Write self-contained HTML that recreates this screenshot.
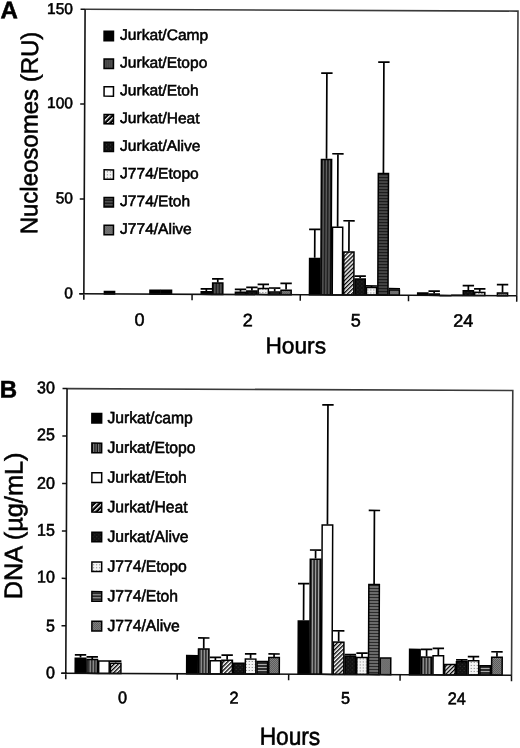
<!DOCTYPE html>
<html><head><meta charset="utf-8"><style>
html,body{margin:0;padding:0;background:#fff;}
svg{display:block;filter:blur(0.3px);}
text{font-family:"Liberation Sans", sans-serif;stroke:#000;stroke-width:0.55px;}
</style></head><body>
<svg width="520" height="748" viewBox="0 0 520 748" font-family="Liberation Sans, sans-serif">
<defs>
<pattern id="pEtopoA" width="3" height="4" patternUnits="userSpaceOnUse">
  <rect width="3" height="4" fill="#222"/><rect x="1" width="1" height="4" fill="#6a6a6a"/></pattern>
<pattern id="pHeat" width="2.9" height="4" patternUnits="userSpaceOnUse" patternTransform="rotate(45)">
  <rect width="2.9" height="4" fill="#fff"/><rect width="1.35" height="4" fill="#000"/></pattern>
<pattern id="pAlive" width="4" height="4" patternUnits="userSpaceOnUse">
  <rect width="4" height="4" fill="#111"/><rect x="1" y="1" width="1" height="1" fill="#3a3a3a"/><rect x="3" y="3" width="1" height="1" fill="#2a2a2a"/></pattern>
<pattern id="pJEtopo" width="3" height="3" patternUnits="userSpaceOnUse">
  <rect width="3" height="3" fill="#f4f4f4"/><rect x="1" y="1" width="1" height="1" fill="#777"/></pattern>
<pattern id="pJEtoh" width="4" height="3" patternUnits="userSpaceOnUse">
  <rect width="4" height="3" fill="#1c1c1c"/><rect y="1" width="4" height="1" fill="#6a6a6a"/></pattern>
<pattern id="pJAlive" width="2" height="2" patternUnits="userSpaceOnUse">
  <rect width="2" height="2" fill="#9a9a9a"/><rect width="1" height="1" fill="#444"/><rect x="1" y="1" width="1" height="1" fill="#444"/></pattern>
<pattern id="pEtopoB" width="3" height="4" patternUnits="userSpaceOnUse">
  <rect width="3" height="4" fill="#333"/><rect x="1" width="1" height="4" fill="#aaa"/></pattern>
<pattern id="pHeatL" width="3.6" height="3.6" patternUnits="userSpaceOnUse" patternTransform="rotate(45)">
  <rect width="3.6" height="3.6" fill="#000"/><rect width="1.3" height="3.6" fill="#fff"/></pattern>
<pattern id="pEtopoL" width="2" height="2" patternUnits="userSpaceOnUse">
  <rect width="2" height="2" fill="#3a3a3a"/><rect width="1" height="2" fill="#5a5a5a"/></pattern>
<pattern id="pEtopoBL" width="2.5" height="4" patternUnits="userSpaceOnUse">
  <rect width="2.5" height="4" fill="#111"/><rect x="1" width="1" height="4" fill="#999"/></pattern>
<pattern id="pJEtohB" width="4" height="3" patternUnits="userSpaceOnUse">
  <rect width="4" height="3" fill="#2a2a2a"/><rect y="1" width="4" height="1" fill="#aaa"/></pattern>
</defs>
<rect width="520" height="748" fill="#fff"/>
<g transform="rotate(0.25 260 374)">
<path d="M83.5 10H516.4V294.6" fill="none" stroke="#3a3a3a" stroke-width="1.6"/>
<rect x="104.04" y="292.16" width="10.19" height="2.44" fill="#000" stroke="#000" stroke-width="1.5"/>
<rect x="149.6" y="290.65" width="10.19" height="3.95" fill="#000" stroke="#000" stroke-width="1.5"/>
<rect x="161" y="290.65" width="10.19" height="3.95" fill="#000" stroke="#000" stroke-width="1.5"/>
<rect x="200.87" y="291.97" width="10.19" height="2.63" fill="#000" stroke="#000" stroke-width="1.5"/>
<rect x="212.26" y="283.25" width="10.19" height="11.35" fill="url(#pEtopoA)" stroke="#000" stroke-width="1.5"/>
<rect x="235.05" y="292.35" width="10.19" height="2.25" fill="#222" stroke="#000" stroke-width="1.5"/>
<rect x="246.44" y="291.03" width="10.19" height="3.57" fill="url(#pAlive)" stroke="#000" stroke-width="1.5"/>
<rect x="257.83" y="288.56" width="10.19" height="6.04" fill="url(#pJEtopo)" stroke="#000" stroke-width="1.5"/>
<rect x="269.22" y="291.97" width="10.19" height="2.63" fill="url(#pJEtoh)" stroke="#000" stroke-width="1.5"/>
<rect x="280.61" y="290.08" width="10.19" height="4.52" fill="url(#pJAlive)" stroke="#000" stroke-width="1.5"/>
<rect x="309.09" y="258.2" width="10.19" height="36.4" fill="#000" stroke="#000" stroke-width="1.5"/>
<rect x="320.49" y="159.16" width="10.19" height="135.44" fill="url(#pEtopoA)" stroke="#000" stroke-width="1.5"/>
<rect x="331.88" y="226.9" width="10.19" height="67.7" fill="#fff" stroke="#000" stroke-width="1.5"/>
<rect x="343.27" y="251.56" width="10.19" height="43.04" fill="url(#pHeat)" stroke="#000" stroke-width="1.5"/>
<rect x="354.66" y="278.5" width="10.19" height="16.1" fill="url(#pAlive)" stroke="#000" stroke-width="1.5"/>
<rect x="366.05" y="287.04" width="10.19" height="7.56" fill="url(#pJEtopo)" stroke="#000" stroke-width="1.5"/>
<rect x="377.45" y="173.01" width="10.19" height="121.59" fill="url(#pJEtoh)" stroke="#000" stroke-width="1.5"/>
<rect x="388.84" y="289.32" width="10.19" height="5.28" fill="url(#pJAlive)" stroke="#000" stroke-width="1.5"/>
<rect x="417.32" y="292.35" width="10.19" height="2.25" fill="#000" stroke="#000" stroke-width="1.5"/>
<rect x="428.71" y="293.3" width="10.19" height="1.3" fill="url(#pEtopoA)" stroke="#000" stroke-width="1.5"/>
<rect x="440.1" y="294.82" width="10.19" height="0.1" fill="#fff" stroke="#000" stroke-width="1.5"/>
<rect x="451.5" y="294.44" width="10.19" height="0.16" fill="url(#pHeat)" stroke="#000" stroke-width="1.5"/>
<rect x="462.89" y="289.89" width="10.19" height="4.71" fill="url(#pAlive)" stroke="#000" stroke-width="1.5"/>
<rect x="474.28" y="291.41" width="10.19" height="3.19" fill="url(#pJEtopo)" stroke="#000" stroke-width="1.5"/>
<rect x="497.06" y="291.97" width="10.19" height="2.63" fill="url(#pJAlive)" stroke="#000" stroke-width="1.5"/>
<path d="M205.97 291.37V289.1M200.27 289.1H211.67" stroke="#000" stroke-width="1.7" fill="none"/>
<path d="M217.36 282.65V279.04M211.66 279.04H223.06" stroke="#000" stroke-width="1.7" fill="none"/>
<path d="M240.14 291.75V289.48M234.44 289.48H245.84" stroke="#000" stroke-width="1.7" fill="none"/>
<path d="M251.53 290.43V287.39M245.83 287.39H257.23" stroke="#000" stroke-width="1.7" fill="none"/>
<path d="M262.93 287.96V284.35M257.23 284.35H268.63" stroke="#000" stroke-width="1.7" fill="none"/>
<path d="M274.32 291.37V287.96M268.62 287.96H280.02" stroke="#000" stroke-width="1.7" fill="none"/>
<path d="M285.71 289.48V283.22M280.01 283.22H291.41" stroke="#000" stroke-width="1.7" fill="none"/>
<path d="M314.19 257.6V229.14M308.49 229.14H319.89" stroke="#000" stroke-width="1.7" fill="none"/>
<path d="M325.58 158.56V72.8M319.88 72.8H331.28" stroke="#000" stroke-width="1.7" fill="none"/>
<path d="M336.97 226.3V153.44M331.27 153.44H342.67" stroke="#000" stroke-width="1.7" fill="none"/>
<path d="M348.37 250.96V220.41M342.67 220.41H354.07" stroke="#000" stroke-width="1.7" fill="none"/>
<path d="M359.76 277.9V275.63M354.06 275.63H365.46" stroke="#000" stroke-width="1.7" fill="none"/>
<path d="M371.15 286.44V285.49M365.45 285.49H376.85" stroke="#000" stroke-width="1.7" fill="none"/>
<path d="M382.54 172.41V61.61M376.84 61.61H388.24" stroke="#000" stroke-width="1.7" fill="none"/>
<path d="M393.93 288.72V288.15M388.23 288.15H399.63" stroke="#000" stroke-width="1.7" fill="none"/>
<path d="M433.81 292.7V290.43M428.11 290.43H439.51" stroke="#000" stroke-width="1.7" fill="none"/>
<path d="M467.98 289.29V284.73M462.28 284.73H473.68" stroke="#000" stroke-width="1.7" fill="none"/>
<path d="M479.38 290.81V287.96M473.68 287.96H485.08" stroke="#000" stroke-width="1.7" fill="none"/>
<path d="M502.16 291.37V283.6M496.46 283.6H507.86" stroke="#000" stroke-width="1.7" fill="none"/>
<path d="M83.5 10V300.6M79 294.6H516.4" stroke="#111" stroke-width="1.6" fill="none"/>
<path d="M79 294.6H83.5" stroke="#111" stroke-width="1.5"/>
<path d="M79 199.73H83.5" stroke="#111" stroke-width="1.5"/>
<path d="M79 104.87H83.5" stroke="#111" stroke-width="1.5"/>
<path d="M79 10H83.5" stroke="#111" stroke-width="1.5"/>
<path d="M191.72 294.6V300.6" stroke="#111" stroke-width="1.5"/>
<path d="M299.95 294.6V300.6" stroke="#111" stroke-width="1.5"/>
<path d="M408.17 294.6V300.6" stroke="#111" stroke-width="1.5"/>
<path d="M516.4 294.6V300.6" stroke="#111" stroke-width="1.5"/>
<path d="M67.1 389.45H512.85V674.1" fill="none" stroke="#3a3a3a" stroke-width="1.6"/>
<rect x="76.5" y="658.95" width="10.53" height="15.15" fill="#000" stroke="#000" stroke-width="1.5"/>
<rect x="88.23" y="660.28" width="10.53" height="13.82" fill="url(#pEtopoB)" stroke="#000" stroke-width="1.5"/>
<rect x="99.96" y="661.7" width="10.53" height="12.4" fill="#fff" stroke="#000" stroke-width="1.5"/>
<rect x="111.69" y="663.79" width="10.53" height="10.31" fill="url(#pHeat)" stroke="#000" stroke-width="1.5"/>
<rect x="187.94" y="655.91" width="10.53" height="18.19" fill="#000" stroke="#000" stroke-width="1.5"/>
<rect x="199.67" y="649.27" width="10.53" height="24.83" fill="url(#pEtopoB)" stroke="#000" stroke-width="1.5"/>
<rect x="211.4" y="660.85" width="10.53" height="13.25" fill="#fff" stroke="#000" stroke-width="1.5"/>
<rect x="223.13" y="660.47" width="10.53" height="13.63" fill="url(#pHeat)" stroke="#000" stroke-width="1.5"/>
<rect x="234.86" y="663.41" width="10.53" height="10.69" fill="url(#pAlive)" stroke="#000" stroke-width="1.5"/>
<rect x="246.59" y="659.14" width="10.53" height="14.96" fill="url(#pJEtopo)" stroke="#000" stroke-width="1.5"/>
<rect x="258.32" y="661.51" width="10.53" height="12.59" fill="url(#pJEtohB)" stroke="#000" stroke-width="1.5"/>
<rect x="270.05" y="657.43" width="10.53" height="16.67" fill="url(#pJAlive)" stroke="#000" stroke-width="1.5"/>
<rect x="299.37" y="620.71" width="10.53" height="53.39" fill="#000" stroke="#000" stroke-width="1.5"/>
<rect x="311.1" y="558.94" width="10.53" height="115.16" fill="url(#pEtopoB)" stroke="#000" stroke-width="1.5"/>
<rect x="322.83" y="524.78" width="10.53" height="149.32" fill="#fff" stroke="#000" stroke-width="1.5"/>
<rect x="334.56" y="641.78" width="10.53" height="32.32" fill="url(#pHeat)" stroke="#000" stroke-width="1.5"/>
<rect x="346.29" y="655.91" width="10.53" height="18.19" fill="url(#pAlive)" stroke="#000" stroke-width="1.5"/>
<rect x="358.02" y="657.15" width="10.53" height="16.95" fill="url(#pJEtopo)" stroke="#000" stroke-width="1.5"/>
<rect x="369.75" y="583.99" width="10.53" height="90.11" fill="url(#pJEtohB)" stroke="#000" stroke-width="1.5"/>
<rect x="381.48" y="657.43" width="10.53" height="16.67" fill="url(#pJAlive)" stroke="#000" stroke-width="1.5"/>
<rect x="410.81" y="648.7" width="10.53" height="25.4" fill="#000" stroke="#000" stroke-width="1.5"/>
<rect x="422.54" y="656.39" width="10.53" height="17.71" fill="url(#pEtopoB)" stroke="#000" stroke-width="1.5"/>
<rect x="434.27" y="655.06" width="10.53" height="19.04" fill="#fff" stroke="#000" stroke-width="1.5"/>
<rect x="446" y="663.6" width="10.53" height="10.5" fill="url(#pHeat)" stroke="#000" stroke-width="1.5"/>
<rect x="457.73" y="660.94" width="10.53" height="13.16" fill="url(#pAlive)" stroke="#000" stroke-width="1.5"/>
<rect x="469.46" y="659.9" width="10.53" height="14.2" fill="url(#pJEtopo)" stroke="#000" stroke-width="1.5"/>
<rect x="481.19" y="664.83" width="10.53" height="9.27" fill="url(#pJEtohB)" stroke="#000" stroke-width="1.5"/>
<rect x="492.92" y="656.29" width="10.53" height="17.81" fill="url(#pJAlive)" stroke="#000" stroke-width="1.5"/>
<path d="M81.76 658.35V655.6M76.06 655.6H87.46" stroke="#000" stroke-width="1.7" fill="none"/>
<path d="M93.49 659.68V657.59M87.79 657.59H99.19" stroke="#000" stroke-width="1.7" fill="none"/>
<path d="M116.95 663.19V661.77M111.25 661.77H122.65" stroke="#000" stroke-width="1.7" fill="none"/>
<path d="M204.93 648.67V638.23M199.23 638.23H210.63" stroke="#000" stroke-width="1.7" fill="none"/>
<path d="M216.66 660.25V657.59M210.96 657.59H222.36" stroke="#000" stroke-width="1.7" fill="none"/>
<path d="M228.39 659.87V655.31M222.69 655.31H234.09" stroke="#000" stroke-width="1.7" fill="none"/>
<path d="M251.85 658.54V653.89M246.15 653.89H257.55" stroke="#000" stroke-width="1.7" fill="none"/>
<path d="M275.31 656.83V653.89M269.61 653.89H281.01" stroke="#000" stroke-width="1.7" fill="none"/>
<path d="M304.64 620.11V583.49M298.94 583.49H310.34" stroke="#000" stroke-width="1.7" fill="none"/>
<path d="M316.37 558.34V549.8M310.67 549.8H322.07" stroke="#000" stroke-width="1.7" fill="none"/>
<path d="M328.1 524.18V404.63M322.4 404.63H333.8" stroke="#000" stroke-width="1.7" fill="none"/>
<path d="M339.83 641.18V630.45M334.13 630.45H345.53" stroke="#000" stroke-width="1.7" fill="none"/>
<path d="M351.56 655.31V654.17M345.86 654.17H357.26" stroke="#000" stroke-width="1.7" fill="none"/>
<path d="M363.29 656.55V652.75M357.59 652.75H368.99" stroke="#000" stroke-width="1.7" fill="none"/>
<path d="M375.02 583.39V509.95M369.32 509.95H380.72" stroke="#000" stroke-width="1.7" fill="none"/>
<path d="M427.81 655.79V648.67M422.11 648.67H433.51" stroke="#000" stroke-width="1.7" fill="none"/>
<path d="M439.54 654.46V647.53M433.84 647.53H445.24" stroke="#000" stroke-width="1.7" fill="none"/>
<path d="M463 660.34V658.92M457.3 658.92H468.7" stroke="#000" stroke-width="1.7" fill="none"/>
<path d="M474.73 659.3V655.69M469.03 655.69H480.43" stroke="#000" stroke-width="1.7" fill="none"/>
<path d="M498.19 655.69V650.76M492.49 650.76H503.89" stroke="#000" stroke-width="1.7" fill="none"/>
<path d="M67.1 389.45V680.1M62.6 674.1H512.85" stroke="#111" stroke-width="1.6" fill="none"/>
<path d="M62.6 674.1H67.1" stroke="#111" stroke-width="1.5"/>
<path d="M62.6 626.66H67.1" stroke="#111" stroke-width="1.5"/>
<path d="M62.6 579.22H67.1" stroke="#111" stroke-width="1.5"/>
<path d="M62.6 531.77H67.1" stroke="#111" stroke-width="1.5"/>
<path d="M62.6 484.33H67.1" stroke="#111" stroke-width="1.5"/>
<path d="M62.6 436.89H67.1" stroke="#111" stroke-width="1.5"/>
<path d="M62.6 389.45H67.1" stroke="#111" stroke-width="1.5"/>
<path d="M178.54 674.1V680.1" stroke="#111" stroke-width="1.5"/>
<path d="M289.98 674.1V680.1" stroke="#111" stroke-width="1.5"/>
<path d="M401.41 674.1V680.1" stroke="#111" stroke-width="1.5"/>
<path d="M512.85 674.1V680.1" stroke="#111" stroke-width="1.5"/>
<rect x="102.6" y="31.99" width="9.4" height="9.4" fill="#000" stroke="#000" stroke-width="1.5"/>
<text transform="translate(118.64 40.41) scale(1.022 1.0)" font-size="15.2" text-anchor="start" fill="#000">Jurkat/Camp</text>
<rect x="102.72" y="59.7" width="9.4" height="9.4" fill="url(#pEtopoL)" stroke="#000" stroke-width="1.5"/>
<text transform="translate(118.76 68.12) scale(1.022 1.0)" font-size="15.2" text-anchor="start" fill="#000">Jurkat/Etopo</text>
<rect x="102.84" y="87.41" width="9.4" height="9.4" fill="#fff" stroke="#000" stroke-width="1.5"/>
<text transform="translate(118.88 95.83) scale(1.022 1.0)" font-size="15.2" text-anchor="start" fill="#000">Jurkat/Etoh</text>
<rect x="102.97" y="115.12" width="9.4" height="9.4" fill="url(#pHeatL)" stroke="#000" stroke-width="1.5"/>
<text transform="translate(119.01 123.54) scale(1.022 1.0)" font-size="15.2" text-anchor="start" fill="#000">Jurkat/Heat</text>
<rect x="103.09" y="142.83" width="9.4" height="9.4" fill="url(#pAlive)" stroke="#000" stroke-width="1.5"/>
<text transform="translate(119.13 151.25) scale(1.022 1.0)" font-size="15.2" text-anchor="start" fill="#000">Jurkat/Alive</text>
<rect x="103.21" y="170.54" width="9.4" height="9.4" fill="url(#pJEtopo)" stroke="#000" stroke-width="1.5"/>
<text transform="translate(119.25 178.96) scale(1.022 1.0)" font-size="15.2" text-anchor="start" fill="#000">J774/Etopo</text>
<rect x="103.33" y="198.24" width="9.4" height="9.4" fill="url(#pJEtoh)" stroke="#000" stroke-width="1.5"/>
<text transform="translate(119.37 206.67) scale(1.022 1.0)" font-size="15.2" text-anchor="start" fill="#000">J774/Etoh</text>
<rect x="103.45" y="225.95" width="9.4" height="9.4" fill="url(#pJAlive)" stroke="#000" stroke-width="1.5"/>
<text transform="translate(119.49 234.38) scale(1.022 1.0)" font-size="15.2" text-anchor="start" fill="#000">J774/Alive</text>
<rect x="92.07" y="414.14" width="9.8" height="9.6" fill="#000" stroke="#000" stroke-width="1.5"/>
<text transform="translate(107.62 423.67) scale(1.0 1.03)" font-size="15.7" text-anchor="start" fill="#000">Jurkat/camp</text>
<rect x="92.2" y="443.84" width="9.8" height="9.6" fill="url(#pEtopoBL)" stroke="#000" stroke-width="1.5"/>
<text transform="translate(107.74 453.37) scale(1.0 1.03)" font-size="15.7" text-anchor="start" fill="#000">Jurkat/Etopo</text>
<rect x="92.33" y="473.54" width="9.8" height="9.6" fill="#fff" stroke="#000" stroke-width="1.5"/>
<text transform="translate(107.87 483.06) scale(1.0 1.03)" font-size="15.7" text-anchor="start" fill="#000">Jurkat/Etoh</text>
<rect x="92.46" y="503.24" width="9.8" height="9.6" fill="url(#pHeatL)" stroke="#000" stroke-width="1.5"/>
<text transform="translate(108 512.76) scale(1.0 1.03)" font-size="15.7" text-anchor="start" fill="#000">Jurkat/Heat</text>
<rect x="92.59" y="532.94" width="9.8" height="9.6" fill="url(#pAlive)" stroke="#000" stroke-width="1.5"/>
<text transform="translate(108.13 542.46) scale(1.0 1.03)" font-size="15.7" text-anchor="start" fill="#000">Jurkat/Alive</text>
<rect x="92.72" y="562.63" width="9.8" height="9.6" fill="url(#pJEtopo)" stroke="#000" stroke-width="1.5"/>
<text transform="translate(108.26 572.16) scale(1.0 1.03)" font-size="15.7" text-anchor="start" fill="#000">J774/Etopo</text>
<rect x="92.85" y="592.33" width="9.8" height="9.6" fill="url(#pJEtohB)" stroke="#000" stroke-width="1.5"/>
<text transform="translate(108.39 601.86) scale(1.0 1.03)" font-size="15.7" text-anchor="start" fill="#000">J774/Etoh</text>
<rect x="92.98" y="622.03" width="9.8" height="9.6" fill="url(#pJAlive)" stroke="#000" stroke-width="1.5"/>
<text transform="translate(108.52 631.56) scale(1.0 1.03)" font-size="15.7" text-anchor="start" fill="#000">J774/Alive</text>
<text transform="translate(-1.05 19.34)" font-size="24" text-anchor="start" font-weight="bold" fill="#000">A</text>
<text transform="translate(-0.19 398.64)" font-size="24" text-anchor="start" font-weight="bold" fill="#000">B</text>
<text transform="translate(71.33 14.92)" font-size="15.5" text-anchor="end" fill="#000">150</text>
<text transform="translate(71.74 109.02)" font-size="15.5" text-anchor="end" fill="#000">100</text>
<text transform="translate(72.16 204.02)" font-size="15.5" text-anchor="end" fill="#000">50</text>
<text transform="translate(72.57 299.12)" font-size="15.5" text-anchor="end" fill="#000">0</text>
<text transform="translate(54.99 394.19) scale(1.0 1.06)" font-size="16" text-anchor="end" fill="#000">30</text>
<text transform="translate(55.19 441.19) scale(1.0 1.06)" font-size="16" text-anchor="end" fill="#000">25</text>
<text transform="translate(55.4 489.79) scale(1.0 1.06)" font-size="16" text-anchor="end" fill="#000">20</text>
<text transform="translate(55.61 536.69) scale(1.0 1.06)" font-size="16" text-anchor="end" fill="#000">15</text>
<text transform="translate(55.81 583.39) scale(1.0 1.06)" font-size="16" text-anchor="end" fill="#000">10</text>
<text transform="translate(56.03 632.44) scale(1.0 1.06)" font-size="16" text-anchor="end" fill="#000">5</text>
<text transform="translate(56.23 679.19) scale(1.0 1.06)" font-size="16" text-anchor="end" fill="#000">0</text>
<text transform="translate(139.19 326.33)" font-size="18" text-anchor="middle" fill="#000">0</text>
<text transform="translate(247.44 326.35)" font-size="18" text-anchor="middle" fill="#000">2</text>
<text transform="translate(355.54 326.08)" font-size="18" text-anchor="middle" fill="#000">5</text>
<text transform="translate(462.99 325.81)" font-size="18" text-anchor="middle" fill="#000">24</text>
<text transform="translate(123.99 703.9) scale(1.0 1.05)" font-size="16.2" text-anchor="middle" fill="#000">0</text>
<text transform="translate(235.44 703.71) scale(1.0 1.05)" font-size="16.2" text-anchor="middle" fill="#000">2</text>
<text transform="translate(346.89 703.42) scale(1.0 1.05)" font-size="16.2" text-anchor="middle" fill="#000">5</text>
<text transform="translate(458.19 703.54) scale(1.0 1.05)" font-size="16.2" text-anchor="middle" fill="#000">24</text>
<text transform="translate(295.66 353.14)" font-size="22.7" text-anchor="middle" fill="#000">Hours</text>
<text transform="translate(291.57 744.67) scale(1.0 1.09)" font-size="22.7" text-anchor="middle" fill="#000">Hours</text>
<text transform="translate(36.55 133.97) rotate(-90)" font-size="24" text-anchor="middle" fill="#000">Nucleosomes (RU)</text>
<text transform="translate(22.97 526.94) rotate(-90)" font-size="25.3" text-anchor="middle" fill="#000">DNA (µg/mL)</text>
</g>
</svg>
</body></html>
